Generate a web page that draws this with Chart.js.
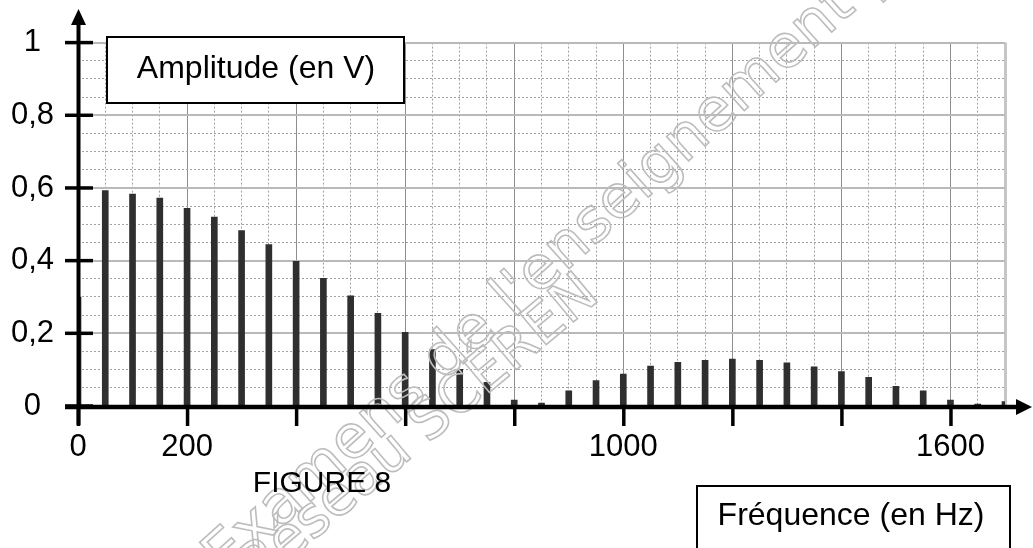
<!DOCTYPE html>
<html>
<head>
<meta charset="utf-8">
<script src="https://cdn.jsdelivr.net/npm/chart.js@4/dist/chart.umd.min.js"></script>
<style>
html,body{margin:0;padding:0;background:#fff;overflow:hidden;}
canvas{display:block;}
</style>
</head>
<body>
<canvas id="c" width="1033" height="548"></canvas>
<script>
// ---- data ----
const frequencies = [0,50,100,150,200,250,300,350,400,450,500,550,600,650,700,750,800,850,900,950,1000,1050,1100,1150,1200,1250,1300,1350,1400,1450,1500,1550,1600,1650,1700];
const amplitudes  = [0.30,0.593,0.583,0.572,0.544,0.520,0.483,0.444,0.398,0.351,0.303,0.255,0.203,0.155,0.101,0.065,0.016,0.008,0.042,0.070,0.088,0.110,0.120,0.126,0.129,0.126,0.119,0.108,0.095,0.079,0.054,0.042,0.016,0.005,0.012];
const xTickValues = [0,200,400,600,800,1000,1200,1400,1600];
const xTickLabels = ["0","200","","","","1000","","","1600"];
const yTickValues = [0,0.2,0.4,0.6,0.8,1];
const yTickLabels = ["0","0,2","0,4","0,6","0,8","1"];
const xMin = 0, xMax = 1700, xMinorStep = 50;
const yMin = 0, yMax = 1, yMinorStep = 0.05;
const yTitle = "Amplitude (en V)";
const xTitle = "Fréquence (en Hz)";
const caption = "FIGURE 8";
const watermarkLine1 = "Base Nationale des Sujets d'Examens de l'enseignement professionnel";
const watermarkLine1Before = "Base Nationale des Sujets d'Examens ";
const watermarkLine2 = "Réseau SCÉREN";
const watermarkLine2Before = "Réseau ";

const FONT = "'Liberation Sans', Arial, sans-serif";

function minorTicks(min, max, step) {
  const out = [];
  const n = Math.round((max - min) / step);
  for (let i = 0; i <= n; i++) out.push({ value: +(min + i * step).toFixed(6) });
  return out;
}
function isOn(list, v) { return list.some(t => Math.abs(t - v) < 1e-6); }

function drawWatermark(ctx, text, before, ax, ay, deg, size) {
  ctx.save();
  ctx.font = size + "px 'DejaVu Sans', sans-serif";
  const a = -deg * Math.PI / 180;
  const w = ctx.measureText(before).width;
  ctx.translate(ax - w * Math.cos(a), ay - w * Math.sin(a));
  ctx.rotate(a);
  ctx.strokeText(text, 0, 0);
  ctx.restore();
}

const overlay = {
  id: 'overlay',
  afterDraw(chart) {
    const ctx = chart.ctx;
    const xs = chart.scales.x, ys = chart.scales.y;
    const x0 = xs.getPixelForValue(0) + 0.5;
    const y0 = ys.getPixelForValue(0) + 1;
    ctx.save();

    // watermark (hollow letters)
    ctx.strokeStyle = '#bdbdbd';
    ctx.lineWidth = 1.6;
    ctx.textBaseline = 'alphabetic';
    ctx.textAlign = 'left';
    drawWatermark(ctx, watermarkLine1, watermarkLine1Before, 443, 382, 42, 60);
    drawWatermark(ctx, watermarkLine2, watermarkLine2Before, 428, 444, 40, 56);

    ctx.strokeStyle = '#000';
    ctx.fillStyle = '#000';
    // y axis line + arrow
    ctx.lineWidth = 4;
    ctx.beginPath(); ctx.moveTo(x0, 425); ctx.lineTo(x0, 22); ctx.stroke();
    ctx.beginPath(); ctx.moveTo(x0, 9); ctx.lineTo(x0 - 7.5, 25); ctx.lineTo(x0 + 7.5, 25); ctx.closePath(); ctx.fill();
    // x axis line + arrow
    ctx.lineWidth = 4.5;
    ctx.beginPath(); ctx.moveTo(65, y0); ctx.lineTo(1018, y0); ctx.stroke();
    ctx.beginPath(); ctx.moveTo(1032, y0); ctx.lineTo(1016, y0 - 8); ctx.lineTo(1016, y0 + 8); ctx.closePath(); ctx.fill();
    // tick marks
    ctx.lineWidth = 3.5;
    yTickValues.forEach(v => {
      const y = ys.getPixelForValue(v);
      ctx.beginPath(); ctx.moveTo(x0 - 13.5, y); ctx.lineTo(x0 + 14.5, y); ctx.stroke();
    });
    xTickValues.forEach(v => {
      const x = xs.getPixelForValue(v) + 0.5;
      ctx.beginPath(); ctx.moveTo(x, y0); ctx.lineTo(x, y0 + 19); ctx.stroke();
    });

    // title boxes
    ctx.lineWidth = 2;
    ctx.fillStyle = '#fff';
    ctx.fillRect(107, 37, 297, 66);
    ctx.strokeRect(107, 37, 297, 66);
    ctx.fillRect(697, 486, 313, 80);
    ctx.strokeRect(697, 486, 313, 80);
    ctx.fillStyle = '#000';
    ctx.font = '32px ' + FONT;
    ctx.textAlign = 'center';
    ctx.textBaseline = 'alphabetic';
    ctx.fillText(yTitle, 256, 78);
    ctx.fillText(xTitle, 851, 525);
    ctx.font = '30px ' + FONT;
    ctx.fillText(caption, 322, 492);
    ctx.restore();
  }
};

const data = frequencies.map((f, i) => ({ x: f, y: amplitudes[i] }));

new Chart(document.getElementById('c'), {
  type: 'bar',
  data: {
    datasets: [{
      data: data,
      backgroundColor: '#2f2f2f',
      borderWidth: 0,
      barThickness: 6,
      grouped: false
    }]
  },
  options: {
    responsive: false,
    animation: false,
    devicePixelRatio: 1,
    layout: { padding: { top: 36, right: 28, left: 0, bottom: 0 } },
    plugins: { legend: { display: false }, tooltip: { enabled: false } },
    scales: {
      x: {
        type: 'linear', position: 'bottom', min: xMin, max: xMax, offset: false,
        afterBuildTicks: s => { s.ticks = xTickValues.concat([xMax]).map(v => ({ value: v })); },
        ticks: {
          autoSkip: false, maxRotation: 0, padding: 23, color: '#000',
          font: { family: FONT, size: 31 },
          callback: v => { const i = xTickValues.indexOf(v); return i < 0 ? '' : xTickLabels[i]; }
        },
        grid: {
          offset: false, drawTicks: false,
          color: c => (c.tick && c.tick.value === xMax) ? '#c6c6c6' : '#8e8e8e',
          lineWidth: c => (c.tick && c.tick.value === xMax) ? 3 : 1
        },
        border: { display: false },
        afterFit: s => { s.height = 142; }
      },
      x2: {
        type: 'linear', position: 'bottom', min: xMin, max: xMax, offset: false,
        afterBuildTicks: s => { s.ticks = minorTicks(xMin, xMax, xMinorStep); },
        ticks: { display: false },
        grid: {
          offset: false, drawTicks: false, lineWidth: 1,
          color: c => (c.tick && (c.tick.value % 200 === 0 || c.tick.value === xMax)) ? 'rgba(0,0,0,0)' : '#a0a0a0'
        },
        border: { display: false, dash: [2, 2] },
        afterFit: s => { s.height = 0; }
      },
      y: {
        type: 'linear', position: 'left', min: yMin, max: yMax,
        afterBuildTicks: s => { s.ticks = yTickValues.map(v => ({ value: v })); },
        ticks: {
          crossAlign: 'center', padding: 24, color: '#000',
          font: { family: FONT, size: 31 },
          callback: v => { const i = yTickValues.findIndex(t => Math.abs(t - v) < 1e-6); return i < 0 ? '' : yTickLabels[i]; }
        },
        grid: { drawTicks: false, color: '#b9b9b9', lineWidth: 2 },
        border: { display: false },
        afterFit: s => { s.width = 78; }
      },
      y2: {
        type: 'linear', position: 'left', min: yMin, max: yMax,
        afterBuildTicks: s => { s.ticks = minorTicks(yMin, yMax, yMinorStep); },
        ticks: { display: false },
        grid: {
          drawTicks: false, lineWidth: 1,
          color: c => (c.tick && isOn(yTickValues, c.tick.value)) ? 'rgba(0,0,0,0)' : '#a0a0a0'
        },
        border: { display: false, dash: [2, 2] },
        afterFit: s => { s.width = 0; }
      }
    }
  },
  plugins: [overlay]
});
</script>
</body>
</html>
